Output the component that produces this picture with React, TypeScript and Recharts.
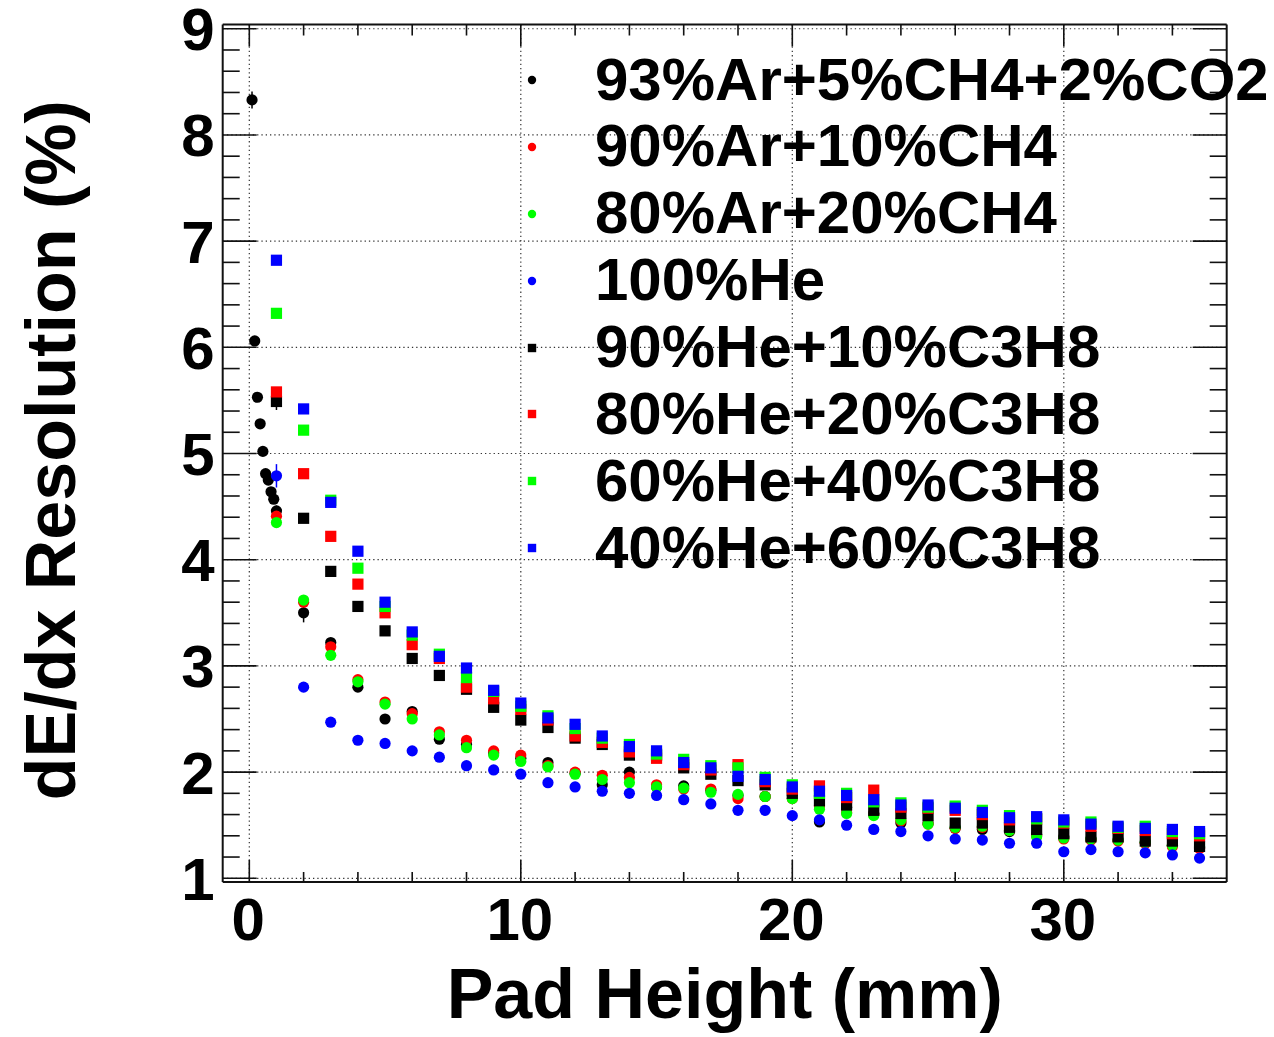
import React from 'react';
import { ScatterChart, Scatter, XAxis, YAxis, ReferenceLine, Legend, ErrorBar, Label } from 'recharts';

const FONT = '"Liberation Sans", Arial, Helvetica, sans-serif';

// Pad heights (mm)
const X_MAIN = [1, 2, 3, 4, 5, 6, 7, 8, 9, 10, 11, 12, 13, 14, 15, 16, 17, 18, 19, 20, 21, 22, 23, 24, 25, 26, 27, 28, 29, 30, 31, 32, 33, 34, 35];
const X_FINE = [0.1, 0.2, 0.3, 0.4, 0.5, 0.6, 0.7, 0.8, 0.9, 1, 2, 3, 4, 5, 6, 7, 8, 9, 10, 11, 12, 13, 14, 15, 16, 17, 18, 19, 20, 21, 22, 23, 24, 25, 26, 27, 28, 29, 30, 31, 32, 33, 34, 35];

// dE/dx resolution (%)
const AR93_CH4_CO2 = [8.33, 6.06, 5.53, 5.28, 5.02, 4.81, 4.75, 4.64, 4.57, 4.46, 3.50, 3.22, 2.80, 2.50, 2.57, 2.31, 2.26, 2.18, 2.13, 2.09, 1.99, 1.88, 2.00, 1.86, 1.87, 1.83, 1.78, 1.77, 1.78, 1.53, 1.67, 1.61, 1.52, 1.52, 1.47, 1.46, 1.44, 1.41, 1.39, 1.37, 1.36, 1.34, 1.31, 1.29];
const AR93_CH4_CO2_ERR = [0.08, 0.03, 0.02, 0.02, 0.02, 0.02, 0.02, 0.02, 0.02, 0.05, 0.09, 0.04, 0.03, 0.02, 0.02, 0.02, 0.02, 0.02, 0.02, 0.02, 0.02, 0.02, 0.02, 0.02, 0.02, 0.02, 0.02, 0.02, 0.02, 0.02, 0.02, 0.02, 0.02, 0.02, 0.02, 0.02, 0.02, 0.02, 0.02, 0.02, 0.02, 0.02, 0.02, 0.02];
const AR90_CH4 = [4.41, 3.60, 3.18, 2.87, 2.66, 2.55, 2.38, 2.30, 2.20, 2.16, 2.06, 2.00, 1.97, 1.95, 1.88, 1.84, 1.84, 1.75, 1.77, 1.75, 1.68, 1.62, 1.60, 1.54, 1.51, 1.47, 1.48, 1.45, 1.40, 1.37, 1.36, 1.35, 1.33, 1.30, 1.28];
const AR80_CH4 = [4.35, 3.62, 3.10, 2.85, 2.64, 2.50, 2.35, 2.23, 2.16, 2.10, 2.05, 1.98, 1.93, 1.90, 1.86, 1.85, 1.81, 1.79, 1.77, 1.75, 1.65, 1.61, 1.59, 1.55, 1.51, 1.48, 1.49, 1.45, 1.39, 1.38, 1.37, 1.36, 1.34, 1.31, 1.30];
const HE100 = [4.79, 2.80, 2.47, 2.30, 2.27, 2.20, 2.14, 2.06, 2.02, 1.98, 1.90, 1.86, 1.82, 1.80, 1.78, 1.74, 1.70, 1.64, 1.64, 1.59, 1.55, 1.50, 1.46, 1.44, 1.40, 1.37, 1.36, 1.33, 1.33, 1.25, 1.27, 1.25, 1.24, 1.22, 1.19];
const HE100_ERR = [0.11, 0.02, 0.02, 0.02, 0.02, 0.02, 0.02, 0.02, 0.02, 0.02, 0.02, 0.02, 0.02, 0.02, 0.02, 0.02, 0.02, 0.02, 0.02, 0.02, 0.02, 0.02, 0.02, 0.02, 0.02, 0.02, 0.02, 0.02, 0.02, 0.02, 0.02, 0.02, 0.02, 0.02, 0.02];
const HE90_C3H8 = [5.49, 4.39, 3.89, 3.56, 3.33, 3.07, 2.91, 2.78, 2.61, 2.49, 2.42, 2.32, 2.26, 2.16, 2.16, 2.04, 1.98, 1.92, 1.88, 1.80, 1.73, 1.69, 1.64, 1.61, 1.59, 1.52, 1.52, 1.48, 1.46, 1.42, 1.39, 1.39, 1.35, 1.35, 1.30];
const HE90_C3H8_ERR = [0.08, 0.03, 0.02, 0.02, 0.02, 0.02, 0.02, 0.02, 0.02, 0.02, 0.02, 0.02, 0.02, 0.02, 0.02, 0.02, 0.02, 0.02, 0.02, 0.02, 0.02, 0.02, 0.02, 0.02, 0.02, 0.02, 0.02, 0.02, 0.02, 0.02, 0.02, 0.02, 0.02, 0.02, 0.02];
const HE80_C3H8 = [5.58, 4.81, 4.22, 3.77, 3.50, 3.20, 3.07, 2.80, 2.69, 2.59, 2.49, 2.34, 2.28, 2.19, 2.13, 2.07, 2.02, 2.07, 1.91, 1.84, 1.87, 1.76, 1.83, 1.67, 1.66, 1.64, 1.60, 1.55, 1.56, 1.52, 1.49, 1.47, 1.45, 1.42, 1.40];
const HE60_C3H8 = [6.32, 5.22, 4.56, 3.92, 3.56, 3.29, 3.11, 2.89, 2.76, 2.62, 2.53, 2.41, 2.32, 2.26, 2.17, 2.12, 2.06, 2.04, 1.95, 1.88, 1.80, 1.80, 1.72, 1.71, 1.67, 1.68, 1.64, 1.59, 1.56, 1.53, 1.53, 1.48, 1.49, 1.44, 1.42];
const HE40_C3H8 = [6.82, 5.42, 4.54, 4.08, 3.60, 3.32, 3.09, 2.98, 2.77, 2.65, 2.51, 2.45, 2.34, 2.24, 2.20, 2.09, 2.04, 1.96, 1.93, 1.86, 1.82, 1.78, 1.74, 1.69, 1.69, 1.66, 1.62, 1.57, 1.58, 1.55, 1.51, 1.49, 1.47, 1.46, 1.44];

// Axis ticks
const X_TICKS = [0, 2, 4, 6, 8, 10, 12, 14, 16, 18, 20, 22, 24, 26, 28, 30, 32, 34];
const X_MAJOR = [0, 10, 20, 30];
const Y_TICKS = [1, 1.2, 1.4, 1.6, 1.8, 2, 2.2, 2.4, 2.6, 2.8, 3, 3.2, 3.4, 3.6, 3.8, 4, 4.2, 4.4, 4.6, 4.8, 5, 5.2, 5.4, 5.6, 5.8, 6, 6.2, 6.4, 6.6, 6.8, 7, 7.2, 7.4, 7.6, 7.8, 8, 8.2, 8.4, 8.6, 8.8, 9];
const Y_MAJOR = [1, 2, 3, 4, 5, 6, 7, 8, 9];
const X_DOMAIN: [number, number] = [-0.98, 36];
const Y_DOMAIN: [number, number] = [0.965, 9.04];

const build = (xs: number[], ys: number[], errs?: number[]) =>
  xs.map((x, i) => ({ x, y: ys[i], err: errs ? errs[i] : 0 }));

type Series = { name: string; color: string; marker: 'circle' | 'square'; data: { x: number; y: number; err: number }[]; err: boolean };

const SERIES: Series[] = [
  { name: '93%Ar+5%CH4+2%CO2', color: '#000000', marker: 'circle', data: build(X_FINE, AR93_CH4_CO2, AR93_CH4_CO2_ERR), err: true },
  { name: '90%Ar+10%CH4', color: '#ff0000', marker: 'circle', data: build(X_MAIN, AR90_CH4), err: false },
  { name: '80%Ar+20%CH4', color: '#00ff00', marker: 'circle', data: build(X_MAIN, AR80_CH4), err: false },
  { name: '100%He', color: '#0000ff', marker: 'circle', data: build(X_MAIN, HE100, HE100_ERR), err: true },
  { name: '90%He+10%C3H8', color: '#000000', marker: 'square', data: build(X_MAIN, HE90_C3H8, HE90_C3H8_ERR), err: true },
  { name: '80%He+20%C3H8', color: '#ff0000', marker: 'square', data: build(X_MAIN, HE80_C3H8), err: false },
  { name: '60%He+40%C3H8', color: '#00ff00', marker: 'square', data: build(X_MAIN, HE60_C3H8), err: false },
  { name: '40%He+60%C3H8', color: '#0000ff', marker: 'square', data: build(X_MAIN, HE40_C3H8), err: false },
];

const MS = 5.6;
const makeShape = (s: Series) => (p: any) => {
  if (p.cx == null || p.cy == null) return <g />;
  return s.marker === 'circle'
    ? <circle cx={p.cx} cy={p.cy} r={MS} fill={s.color} />
    : <rect x={p.cx - MS} y={p.cy - MS} width={MS * 2} height={MS * 2} fill={s.color} />;
};

const isInt = (v: number) => Math.abs(v - Math.round(v)) < 1e-6;
const TICK_FS = 60;
const AX = '#111';

const BottomTick = (p: any) => {
  const v = p.payload.value;
  const major = X_MAJOR.includes(v);
  return (
    <g>
      <line x1={p.x} x2={p.x} y1={p.y} y2={p.y - (major ? 22 : 10)} stroke={AX} strokeWidth={1.6} />
      {major && (
        <text x={p.x - 1} y={p.y + 58} textAnchor="middle" fontFamily={FONT} fontWeight="bold" fontSize={TICK_FS} fill="#000">{v}</text>
      )}
    </g>
  );
};
const TopTick = (p: any) => {
  const v = p.payload.value;
  const major = X_MAJOR.includes(v);
  return <line x1={p.x} x2={p.x} y1={p.y} y2={p.y + (major ? 22 : 11)} stroke={AX} strokeWidth={1.6} />;
};
const LeftTick = (p: any) => {
  const v = p.payload.value;
  const major = isInt(v);
  return (
    <g>
      <line x1={p.x} x2={p.x + (major ? 34 : 17)} y1={p.y} y2={p.y} stroke={AX} strokeWidth={1.6} />
      {major && (
        <text x={p.x - 8} y={p.y + 21.5} textAnchor="end" fontFamily={FONT} fontWeight="bold" fontSize={TICK_FS} fill="#000">{Math.round(v)}</text>
      )}
    </g>
  );
};
const RightTick = (p: any) => {
  const v = p.payload.value;
  const major = isInt(v);
  return <line x1={p.x} x2={p.x - (major ? 34 : 17)} y1={p.y} y2={p.y} stroke={AX} strokeWidth={1.6} />;
};

const XTitle = (p: any) => {
  const vb = p.viewBox;
  return (
    <text x={vb.x + vb.width / 2} y={vb.y + 136} textAnchor="middle" fontFamily={FONT} fontWeight="bold" fontSize={70} fill="#000">Pad Height (mm)</text>
  );
};
const YTitle = (p: any) => {
  const vb = p.viewBox;
  const cx = vb.x + vb.width - 147.7;
  const cy = vb.y + vb.height / 2 - 3;
  return (
    <text x={cx} y={cy} transform={`rotate(-90 ${cx} ${cy})`} textAnchor="middle" fontFamily={FONT} fontWeight="bold" fontSize={70} fill="#000">dE/dx Resolution (%)</text>
  );
};

const ROW = 66.9;
const renderLegend = () => (
  <div style={{ position: 'relative', width: 790, height: ROW * SERIES.length }}>
    {SERIES.map((s, i) => (
      <div key={s.name} style={{ position: 'absolute', left: 0, top: i * ROW, width: 790, height: ROW }}>
        <svg style={{ position: 'absolute', left: 38.7, top: ROW / 2 - 5 }} width={10} height={10}>
          {s.marker === 'circle'
            ? <circle cx={5} cy={5} r={4.2} fill={s.color} />
            : <rect x={0.8} y={0.8} width={8.4} height={8.4} fill={s.color} />}
        </svg>
        <span style={{ position: 'absolute', left: 107, top: 0, lineHeight: `${ROW}px`, fontSize: 60, fontWeight: 'bold', fontFamily: FONT, color: '#000', whiteSpace: 'nowrap' }}>{s.name}</span>
      </div>
    ))}
  </div>
);

export default function App() {
  return (
    <div style={{ width: 1274, height: 1037, margin: '-8px 0 0 -8px', background: '#fff' }}>
      <ScatterChart width={1274} height={1037} margin={{ top: 23.5, right: 46.3, bottom: 154, left: 221.7 }}>
        <XAxis xAxisId="b" type="number" dataKey="x" domain={X_DOMAIN} allowDataOverflow ticks={X_TICKS} interval={0}
          tick={<BottomTick />} tickLine={false} tickSize={0} tickMargin={0} height={1}
          axisLine={{ stroke: AX, strokeWidth: 2 }}>
          <Label content={<XTitle />} />
        </XAxis>
        <XAxis xAxisId="t" orientation="top" type="number" dataKey="x" domain={X_DOMAIN} allowDataOverflow ticks={X_TICKS} interval={0}
          tick={<TopTick />} tickLine={false} tickSize={0} tickMargin={0} height={1}
          axisLine={{ stroke: AX, strokeWidth: 2 }} />
        <YAxis yAxisId="l" type="number" dataKey="y" domain={Y_DOMAIN} allowDataOverflow ticks={Y_TICKS} interval={0}
          tick={<LeftTick />} tickLine={false} tickSize={0} tickMargin={0} width={1}
          axisLine={{ stroke: AX, strokeWidth: 2 }}>
          <Label content={<YTitle />} />
        </YAxis>
        <YAxis yAxisId="r" orientation="right" type="number" dataKey="y" domain={Y_DOMAIN} allowDataOverflow ticks={Y_TICKS} interval={0}
          tick={<RightTick />} tickLine={false} tickSize={0} tickMargin={0} width={1}
          axisLine={{ stroke: AX, strokeWidth: 2 }} />
        {X_MAJOR.map((v) => (
          <ReferenceLine key={'gx' + v} xAxisId="b" yAxisId="l" x={v} stroke="#333" strokeWidth={1.2} strokeDasharray="1.3 3" />
        ))}
        {Y_MAJOR.map((v) => (
          <ReferenceLine key={'gy' + v} xAxisId="b" yAxisId="l" y={v} stroke="#333" strokeWidth={1.2} strokeDasharray="1.3 3" />
        ))}
        <Legend layout="horizontal" verticalAlign="middle" align="center" content={renderLegend}
          wrapperStyle={{ left: 488, top: 46.5, width: 790, height: ROW * 8 }} />
        {SERIES.map((s) => (
          <Scatter key={s.name} name={s.name} xAxisId="b" yAxisId="l" data={s.data} dataKey="y" fill={s.color}
            shape={makeShape(s)} isAnimationActive={false}>
            {s.err && <ErrorBar dataKey="err" direction="y" width={0} stroke={s.color} strokeWidth={1.5} />}
          </Scatter>
        ))}
      </ScatterChart>
    </div>
  );
}
